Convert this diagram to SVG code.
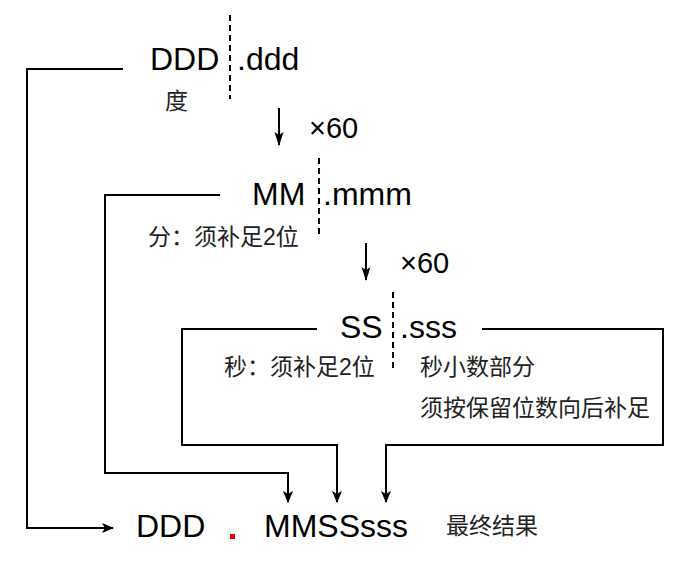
<svg xmlns="http://www.w3.org/2000/svg" width="695" height="570" viewBox="0 0 695 570">
<defs>
<style>
.big{font-family:"Liberation Sans",Arial,sans-serif;font-size:32px;fill:#000}
.mul{font-family:"Liberation Sans",Arial,sans-serif;font-size:29px;fill:#000}
.cn{font-family:"Liberation Sans","Noto Sans CJK SC",sans-serif;font-size:23px;fill:#222}
.ln{fill:none;stroke:#000;stroke-width:2}
.dash{fill:none;stroke:#000;stroke-width:2;stroke-dasharray:6 4}
</style>
<marker id="ah" markerUnits="userSpaceOnUse" markerWidth="12" markerHeight="10" refX="11" refY="5" orient="auto">
<path d="M0,0 L12,5 L0,10 L3,5 z" fill="#000"/>
</marker>
<marker id="ah2" markerUnits="userSpaceOnUse" markerWidth="14" markerHeight="10" refX="13" refY="5" orient="auto">
<path d="M0,0.5 L14,5 L0,9.5 L3,5 z" fill="#000"/>
</marker>
</defs>
<rect width="695" height="570" fill="#fff"/>
<g id="degrees">
<text class="big" x="150" y="70">DDD</text>
<line class="dash" x1="230" y1="15" x2="230" y2="99"/>
<text class="big" x="237" y="70">.ddd</text>
<text class="cn" x="165" y="109">度</text>
</g>
<g id="step1">
<text class="mul" x="309" y="138">×60</text>
</g>
<g id="minutes">
<text class="big" x="252" y="205">MM</text>
<line class="dash" x1="319" y1="158" x2="319" y2="236"/>
<text class="big" x="323" y="205">.mmm</text>
<text class="cn" x="148" y="245">分：须补足2位</text>
</g>
<g id="step2">
<text class="mul" x="400" y="273">×60</text>
</g>
<g id="seconds">
<text class="big" x="340" y="338">SS</text>
<line class="dash" x1="393" y1="292" x2="393" y2="368"/>
<text class="big" x="400" y="338">.sss</text>
<text class="cn" x="224" y="375">秒：须补足2位</text>
<text class="cn" x="420" y="375">秒小数部分</text>
<text class="cn" x="420" y="416">须按保留位数向后补足</text>
</g>
<g id="result">
<text class="big" x="136" y="537">DDD</text>
<rect x="230" y="534" width="5" height="5" fill="#e00000"/>
<text class="big" x="264" y="537">MMSSsss</text>
<text class="cn" x="446" y="534">最终结果</text>
</g>
<g id="connectors">
<line class="ln" x1="279" y1="108" x2="279" y2="145" marker-end="url(#ah2)"/>
<line class="ln" x1="366" y1="243" x2="366" y2="280" marker-end="url(#ah2)"/>
<polyline class="ln" points="123,69 27,69 27,528 113,528" marker-end="url(#ah)"/>
<polyline class="ln" points="220,195 105,195 105,473 288,473 288,502" marker-end="url(#ah)"/>
<polyline class="ln" points="317,329 182,329 182,445 337,445 337,502" marker-end="url(#ah)"/>
<polyline class="ln" points="482,329 663,329 663,445 386,445 386,502" marker-end="url(#ah)"/>
</g>
</svg>
